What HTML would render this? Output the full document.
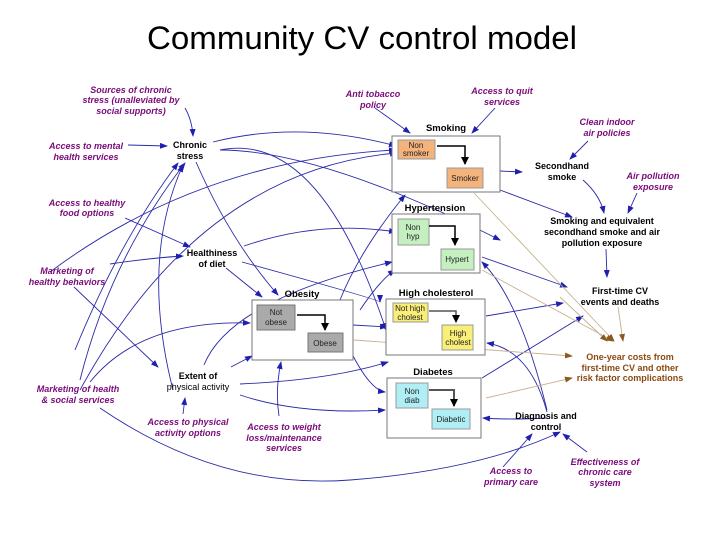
<!DOCTYPE html>
<html><head><meta charset="utf-8"><style>
html,body{margin:0;padding:0;background:#fff;}
svg{display:block;font-family:"Liberation Sans",sans-serif;}
.p{fill:#7a0a7a;font-style:italic;font-weight:bold;font-size:9px;text-anchor:middle;}
.b{fill:#000;font-weight:bold;font-size:9px;text-anchor:middle;}
.o{fill:#8a4a10;font-weight:bold;font-size:9px;text-anchor:middle;}
.s{font-size:8px;text-anchor:middle;fill:#222;}
.l{fill:none;stroke:#2a2aa8;stroke-width:0.9;marker-end:url(#a);}
.t{fill:none;stroke:#c8b090;stroke-width:0.9;marker-end:url(#br);}
.box{fill:#fff;stroke:#777;stroke-width:1;}
</style></head><body>
<svg width="720" height="540" viewBox="0 0 720 540">
<defs>
<marker id="a" markerWidth="8" markerHeight="6" refX="7" refY="3" orient="auto" markerUnits="userSpaceOnUse"><path d="M0,0L8,3L0,6z" fill="#2020b0"/></marker>
<marker id="br" markerWidth="8" markerHeight="6" refX="7" refY="3" orient="auto" markerUnits="userSpaceOnUse"><path d="M0,0L8,3L0,6z" fill="#8a5a20"/></marker>
<marker id="k" markerWidth="8" markerHeight="8" refX="7" refY="4" orient="auto" markerUnits="userSpaceOnUse"><path d="M0,0L8,4L0,8z" fill="#000"/></marker>
</defs>
<text x="362" y="49" font-size="32" text-anchor="middle" fill="#000" textLength="430" lengthAdjust="spacingAndGlyphs">Community CV control model</text>

<g>
<path class="l" d="M185,108 Q192,120 193,136"/>
<path class="l" d="M128,145 L167,146"/>
<path class="l" d="M213,142 Q300,120 396,146"/>
<path class="l" d="M220,150 Q320,150 500,240"/>
<path class="l" d="M196,162 Q230,240 278,295"/>
<path class="l" d="M75,350 Q120,240 178,163"/>
<path class="l" d="M80,380 Q110,260 185,163"/>
<path class="l" d="M173,390 Q140,260 183,165"/>
<path class="l" d="M50,272 Q200,160 396,150"/>
<path class="l" d="M80,390 Q200,170 397,153"/>
<path class="l" d="M125,218 L190,247"/>
<path class="l" d="M110,264 Q150,258 183,256"/>
<path class="l" d="M244,246 Q320,220 396,232"/>
<path class="l" d="M242,262 Q380,300 380,302"/>
<path class="l" d="M226,268 L262,297"/>
<path class="l" d="M74,287 L158,367"/>
<path class="l" d="M90,382 Q140,320 250,323"/>
<path class="l" d="M204,365 Q230,300 392,262"/>
<path class="l" d="M231,367 L252,356"/>
<path class="l" d="M240,384 Q330,380 388,362"/>
<path class="l" d="M240,395 Q300,415 385,410"/>
<path class="l" d="M183,414 L185,398"/>
<path class="l" d="M279,416 Q275,390 281,362"/>
<path class="l" d="M100,408 Q220,490 350,480 Q480,470 560,432"/>
<path class="l" d="M220,150 Q320,130 386,330"/>
<path class="l" d="M340,300 Q360,250 405,195"/>
<path class="l" d="M353,325 L387,327"/>
<path class="l" d="M350,350 Q370,390 385,392"/>
<path class="l" d="M360,310 Q380,280 395,270"/>
<path class="l" d="M500,171 L522,172"/>
<path class="l" d="M500,190 L572,217"/>
<path class="l" d="M375,108 L410,133"/>
<path class="l" d="M495,108 L472,133"/>
<path class="l" d="M588,141 L570,159"/>
<path class="l" d="M583,180 Q600,195 604,213"/>
<path class="l" d="M637,193 L628,213"/>
<path class="l" d="M606,249 L607,277"/>
<path class="l" d="M482,257 L567,287"/>
<path class="l" d="M486,316 L563,303"/>
<path class="l" d="M482,378 L583,316"/>
<path class="l" d="M547,418 Q510,420 483,418"/>
<path class="l" d="M547,412 Q530,350 487,343"/>
<path class="l" d="M547,410 Q520,300 482,262"/>
<path class="l" d="M503,467 L532,434"/>
<path class="l" d="M587,452 L563,434"/>
<path class="t" d="M474,193 L614,341"/>
<path class="t" d="M482,270 L613,341"/>
<path class="t" d="M354,340 L572,356"/>
<path class="t" d="M486,398 L572,378"/>
<path class="t" d="M560,297 L607,341"/>
<path class="t" d="M618,307 L623,341"/>
</g>

<text class="b" x="446" y="131" style="font-size:9.5px">Smoking</text>
<rect class="box" x="392" y="136" width="108" height="56"/>
<rect x="398" y="140" width="37" height="19" fill="#f4b37a" stroke="#999"/>
<text class="s" x="416" y="148">Non</text><text class="s" x="416" y="156">smoker</text>
<rect x="447" y="168" width="36" height="20" fill="#f4b37a" stroke="#999"/>
<text class="s" x="465" y="181">Smoker</text>
<path d="M437,146 L465,146 L465,164" fill="none" stroke="#000" stroke-width="1.5" marker-end="url(#k)"/>

<text class="b" x="435" y="211" style="font-size:9.5px">Hypertension</text>
<rect class="box" x="392" y="214" width="88" height="59"/>
<rect x="398" y="219" width="31" height="26" fill="#c4f0c0" stroke="#999"/>
<text class="s" x="413" y="230">Non</text><text class="s" x="413" y="239">hyp</text>
<rect x="441" y="249" width="33" height="21" fill="#c4f0c0" stroke="#999"/>
<text class="s" x="457" y="262">Hypert</text>
<path d="M429,226 L455,226 L455,245" fill="none" stroke="#000" stroke-width="1.5" marker-end="url(#k)"/>

<text class="b" x="302" y="297" style="font-size:9.5px">Obesity</text>
<rect class="box" x="252" y="300" width="101" height="60"/>
<rect x="257" y="305" width="38" height="25" fill="#aaa" stroke="#777"/>
<text class="s" x="276" y="315">Not</text><text class="s" x="276" y="325">obese</text>
<rect x="308" y="333" width="35" height="19" fill="#aaa" stroke="#777"/>
<text class="s" x="325" y="346">Obese</text>
<path d="M297,315 L325,315 L325,330" fill="none" stroke="#000" stroke-width="1.5" marker-end="url(#k)"/>

<text class="b" x="436" y="296" style="font-size:9.5px">High cholesterol</text>
<rect class="box" x="386" y="299" width="99" height="56"/>
<rect x="393" y="303" width="35" height="19" fill="#f8ee78" stroke="#999"/>
<text class="s" x="410" y="311">Not high</text><text class="s" x="410" y="320">cholest</text>
<rect x="442" y="325" width="31" height="25" fill="#f8ee78" stroke="#999"/>
<text class="s" x="458" y="336">High</text><text class="s" x="458" y="345">cholest</text>
<path d="M429,311 L456,311 L456,322" fill="none" stroke="#555" stroke-width="1.5" marker-end="url(#k)"/>

<text class="b" x="433" y="375" style="font-size:9.5px">Diabetes</text>
<rect class="box" x="387" y="378" width="94" height="60"/>
<rect x="396" y="383" width="32" height="25" fill="#b0eef6" stroke="#999"/>
<text class="s" x="412" y="394">Non</text><text class="s" x="412" y="403">diab</text>
<rect x="432" y="409" width="38" height="20" fill="#b0eef6" stroke="#999"/>
<text class="s" x="451" y="422">Diabetic</text>
<path d="M429,390 L454,390 L454,406" fill="none" stroke="#555" stroke-width="2" marker-end="url(#k)"/>

<text class="b" x="190" y="148">Chronic</text><text class="b" x="190" y="159">stress</text>
<text class="b" x="212" y="256">Healthiness</text><text class="b" x="212" y="267">of diet</text>
<text class="b" x="198" y="379">Extent of</text><text class="b" x="198" y="390" style="font-weight:normal">physical activity</text>
<text class="b" x="562" y="169">Secondhand</text><text class="b" x="562" y="180">smoke</text>
<text class="b" x="602" y="224">Smoking and equivalent</text><text class="b" x="602" y="235">secondhand smoke and air</text><text class="b" x="602" y="246">pollution exposure</text>
<text class="b" x="620" y="294">First-time CV</text><text class="b" x="620" y="305">events and deaths</text>
<text class="o" x="630" y="360">One-year costs from</text><text class="o" x="630" y="371">first-time CV and other</text><text class="o" x="630" y="381">risk factor complications</text>
<text class="b" x="546" y="419">Diagnosis and</text><text class="b" x="546" y="430">control</text>

<text class="p" x="131" y="93">Sources of chronic</text><text class="p" x="131" y="103">stress (unalleviated by</text><text class="p" x="131" y="114">social supports)</text>
<text class="p" x="86" y="149">Access to mental</text><text class="p" x="86" y="160">health services</text>
<text class="p" x="87" y="206">Access to healthy</text><text class="p" x="87" y="216">food options</text>
<text class="p" x="67" y="274">Marketing of</text><text class="p" x="67" y="285">healthy behaviors</text>
<text class="p" x="78" y="392">Marketing of health</text><text class="p" x="78" y="403">&amp; social services</text>
<text class="p" x="188" y="425">Access to physical</text><text class="p" x="188" y="436">activity options</text>
<text class="p" x="284" y="430">Access to weight</text><text class="p" x="284" y="441">loss/maintenance</text><text class="p" x="284" y="451">services</text>
<text class="p" x="373" y="97">Anti tobacco</text><text class="p" x="373" y="108">policy</text>
<text class="p" x="502" y="94">Access to quit</text><text class="p" x="502" y="105">services</text>
<text class="p" x="607" y="125">Clean indoor</text><text class="p" x="607" y="136">air policies</text>
<text class="p" x="653" y="179">Air pollution</text><text class="p" x="653" y="190">exposure</text>
<text class="p" x="511" y="474">Access to</text><text class="p" x="511" y="485">primary care</text>
<text class="p" x="605" y="465">Effectiveness of</text><text class="p" x="605" y="475">chronic care</text><text class="p" x="605" y="486">system</text>
</svg>
</body></html>
